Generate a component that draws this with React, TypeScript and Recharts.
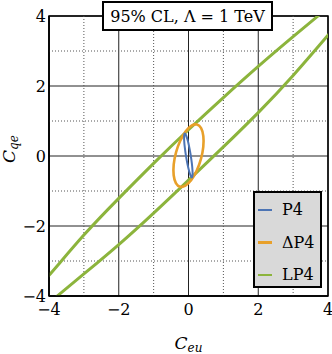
import React from 'react';
import { ComposedChart, Line, XAxis, YAxis, CartesianGrid, ReferenceLine, ReferenceArea } from 'recharts';

// ---- data ----
const majorTicks = [-4, -2, 0, 2, 4];
const minorTicks = [-3, -1, 1, 3];

const p4Ellipse = [
  { x: -0.11, y: 0.66 }, { x: -0.076, y: 0.616 }, { x: -0.03, y: 0.48 }, { x: 0.019, y: 0.274 },
  { x: 0.064, y: 0.028 }, { x: 0.099, y: -0.22 }, { x: 0.118, y: -0.432 }, { x: 0.118, y: -0.576 },
  { x: 0.1, y: -0.63 }, { x: 0.066, y: -0.586 }, { x: 0.02, y: -0.45 }, { x: -0.029, y: -0.244 },
  { x: -0.074, y: 0.002 }, { x: -0.109, y: 0.25 }, { x: -0.128, y: 0.462 }, { x: -0.128, y: 0.606 },
];

const dp4Ellipse = [
  { x: 0.25, y: 0.92 }, { x: 0.371, y: 0.814 }, { x: 0.436, y: 0.584 }, { x: 0.435, y: 0.268 },
  { x: 0.367, y: -0.087 }, { x: 0.243, y: -0.428 }, { x: 0.082, y: -0.702 }, { x: -0.091, y: -0.868 },
  { x: -0.25, y: -0.9 }, { x: -0.371, y: -0.794 }, { x: -0.436, y: -0.564 }, { x: -0.435, y: -0.248 },
  { x: -0.367, y: 0.107 }, { x: -0.243, y: 0.448 }, { x: -0.082, y: 0.722 }, { x: 0.091, y: 0.888 },
];

const lp4Upper = [
  { x: -4.1, y: -3.47 }, { x: -4.0, y: -3.41 }, { x: -3.0, y: -2.26 }, { x: -2.0, y: -1.21 },
  { x: -1.0, y: -0.21 }, { x: 0.0, y: 0.75 }, { x: 1.0, y: 1.67 }, { x: 2.0, y: 2.56 },
  { x: 3.0, y: 3.41 }, { x: 3.75, y: 4.03 }, { x: 3.85, y: 4.11 },
];

const lp4Lower = [
  { x: -3.9, y: -4.12 }, { x: -3.8, y: -4.03 }, { x: -3.0, y: -3.37 }, { x: -2.0, y: -2.53 },
  { x: -1.0, y: -1.63 }, { x: 0.0, y: -0.69 }, { x: 1.0, y: 0.26 }, { x: 2.0, y: 1.24 },
  { x: 3.0, y: 2.3 }, { x: 4.0, y: 3.45 }, { x: 4.1, y: 3.56 },
];

const legendItems = [
  { name: 'P4', color: '#4c74b4' },
  { name: '\u0394P4', color: '#e8a02a' },
  { name: 'LP4', color: '#8cb43c' },
];

const FONT = '"DejaVu Serif", serif';
const fmt = (v: number) => (v < 0 ? '\u2212' + Math.abs(v) : String(v));

const XLabel = (props: any) => {
  const vb = props.viewBox || { x: 49, y: 296, width: 279, height: 58 };
  return (
    <text x={vb.x + vb.width / 2} y={vb.y + 53} textAnchor="middle" fontFamily={FONT} fontStyle="italic" fill="#000">
      <tspan fontSize={17}>C</tspan>
      <tspan fontSize={12} dy={3}>eu</tspan>
    </text>
  );
};

const YLabel = (props: any) => {
  const vb = props.viewBox || { x: 0, y: 16, width: 49, height: 280 };
  const X = vb.x + 15;
  const Y = vb.y + 133;
  return (
    <text x={X} y={Y} transform={`rotate(-90, ${X}, ${Y})`} textAnchor="middle" fontFamily={FONT} fontStyle="italic" fill="#000">
      <tspan fontSize={17}>C</tspan>
      <tspan fontSize={12} dy={3}>qe</tspan>
    </text>
  );
};

export default function App() {
  return (
    <div style={{ position: 'absolute', left: 0, top: 0, width: 332, height: 354, background: '#fff' }}>
      <ComposedChart width={332} height={354} margin={{ top: 16, right: 4, left: 0, bottom: 0 }}>
        <CartesianGrid stroke="#222" strokeWidth={1} horizontalValues={majorTicks} verticalValues={majorTicks} />
        <XAxis
          type="number"
          dataKey="x"
          domain={[-4, 4]}
          ticks={majorTicks}
          allowDataOverflow
          height={58}
          tickSize={0}
          tickMargin={8}
          tickFormatter={fmt}
          axisLine={{ stroke: '#000', strokeWidth: 1.5 }}
          tick={{ fill: '#000', fontSize: 16, fontFamily: FONT }}
          label={<XLabel />}
        />
        <YAxis
          type="number"
          dataKey="y"
          domain={[-4, 4]}
          ticks={majorTicks}
          allowDataOverflow
          width={49}
          tickSize={0}
          tickMargin={3}
          tickFormatter={fmt}
          axisLine={{ stroke: '#000', strokeWidth: 1.5 }}
          tick={{ fill: '#000', fontSize: 16, fontFamily: FONT }}
          label={<YLabel />}
        />
        {minorTicks.map((v) => (
          <ReferenceLine key={'vx' + v} x={v} stroke="#555" strokeWidth={1} strokeDasharray="1 2" />
        ))}
        {minorTicks.map((v) => (
          <ReferenceLine key={'hy' + v} y={v} stroke="#555" strokeWidth={1} strokeDasharray="1 2" />
        ))}
        <Line data={lp4Upper} dataKey="y" type="natural" stroke={legendItems[2].color} strokeWidth={3} dot={false} isAnimationActive={false} />
        <Line data={lp4Lower} dataKey="y" type="natural" stroke={legendItems[2].color} strokeWidth={3} dot={false} isAnimationActive={false} />
        <Line data={dp4Ellipse} dataKey="y" type="basisClosed" stroke={legendItems[1].color} strokeWidth={2.6} dot={false} isAnimationActive={false} />
        <Line data={p4Ellipse} dataKey="y" type="basisClosed" stroke={legendItems[0].color} strokeWidth={2} dot={false} isAnimationActive={false} />
        <ReferenceArea x1={-4} x2={4} y1={-4} y2={4} fill="none" fillOpacity={0} stroke="#000" strokeWidth={1.5} />
      </ComposedChart>

      <div
        style={{
          position: 'absolute', left: 102, top: 1, width: 171, height: 30, boxSizing: 'border-box',
          border: '2px solid #000', background: '#fff', fontFamily: FONT, fontSize: 16, color: '#000',
          display: 'flex', alignItems: 'center', justifyContent: 'center', whiteSpace: 'nowrap',
        }}
      >
        95% CL, {'\u039B'} = 1 TeV
      </div>

      <div
        style={{
          position: 'absolute', left: 253, top: 191, width: 69, height: 97, boxSizing: 'border-box',
          border: '2px solid #000', background: '#d9d9d9', fontFamily: FONT, fontSize: 16, color: '#000',
        }}
      >
        {legendItems.map((it, i) => (
          <div
            key={it.name}
            style={{ position: 'absolute', left: 0, top: 6 + i * 32.5, height: 22, width: 65, display: 'flex', alignItems: 'center' }}
          >
            <div style={{ marginLeft: 3, width: 14, height: 2.5, background: it.color }} />
            <span style={{ marginLeft: 10, lineHeight: '22px' }}>{it.name}</span>
          </div>
        ))}
      </div>
    </div>
  );
}
